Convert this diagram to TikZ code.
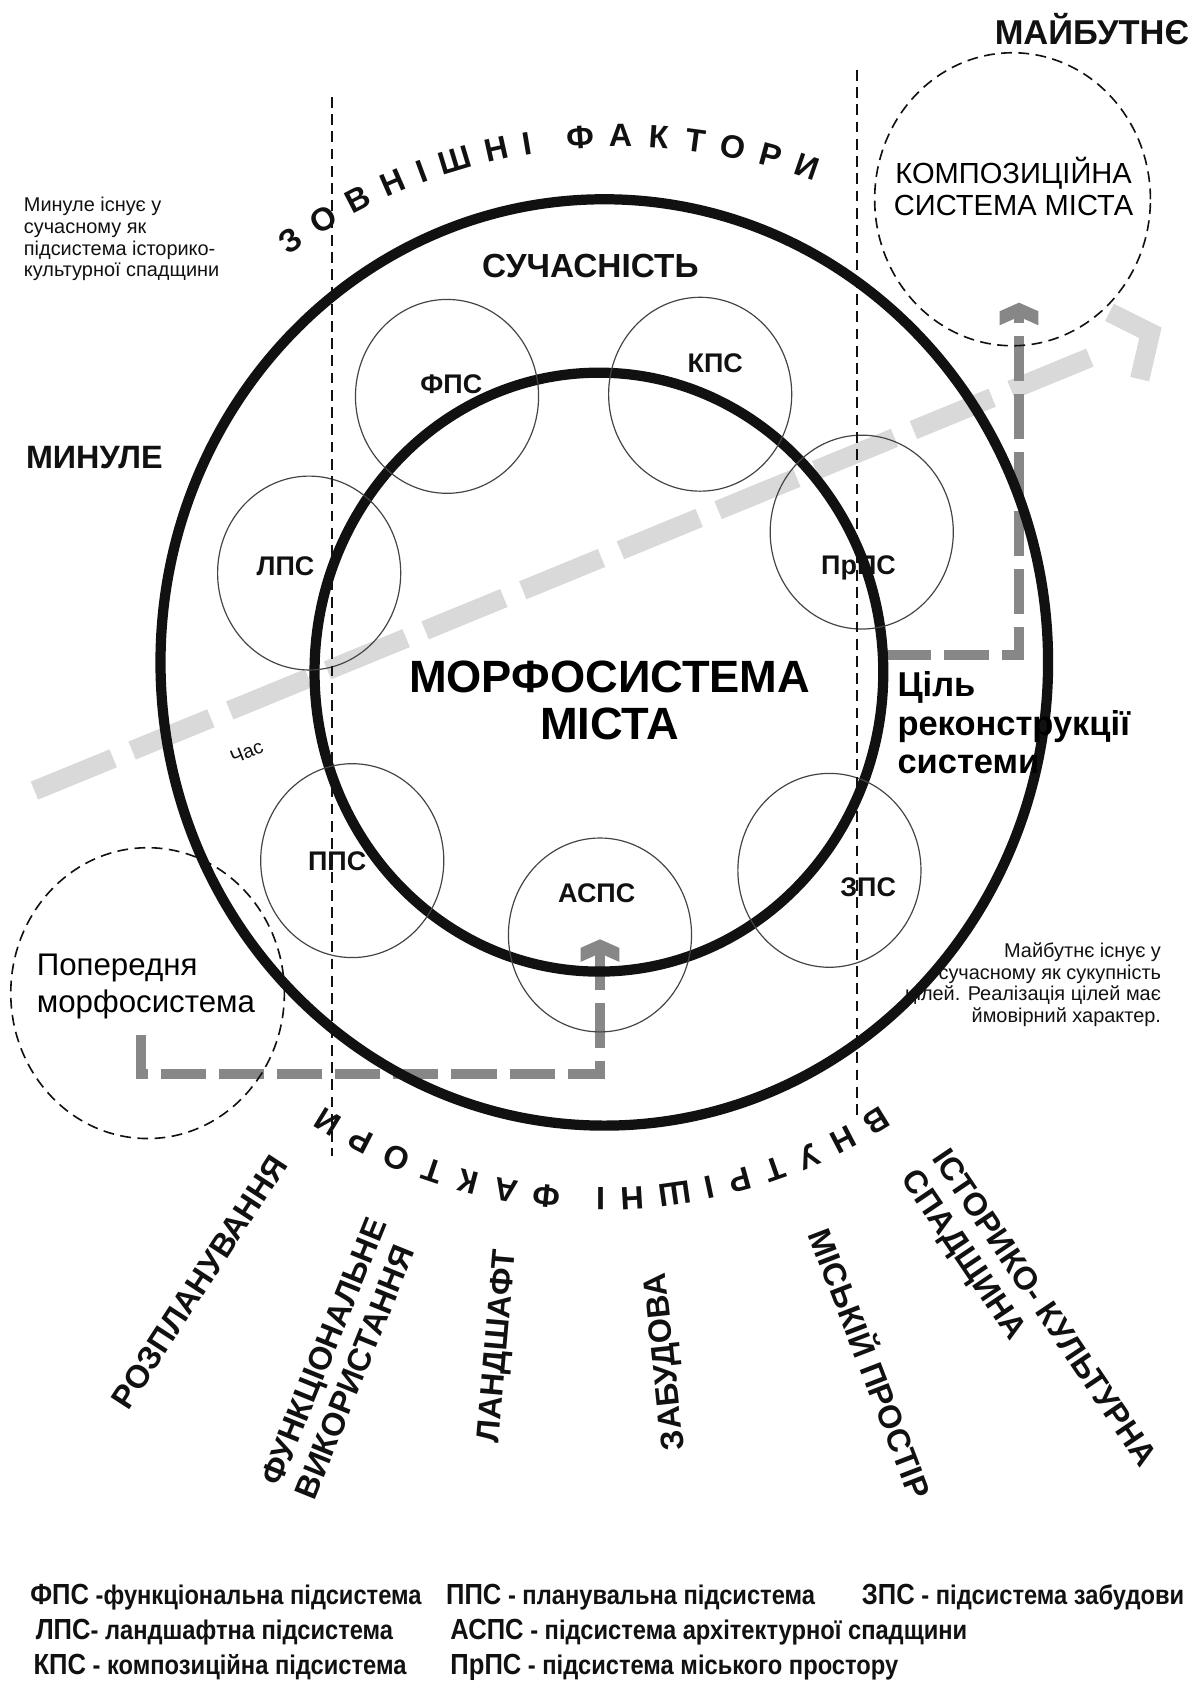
\documentclass[tikz,border=0pt]{standalone}
\usepackage{fontspec}
\setmainfont{Liberation Sans}
\newfontfamily\narrowsans{Liberation Sans}[FakeStretch=0.88]
\usepackage{xcolor}
\definecolor{timegray}{HTML}{D9D9D9}
\definecolor{flowgray}{HTML}{878787}
\definecolor{inkblack}{HTML}{111111}
\definecolor{thingray}{HTML}{444444}
\usetikzlibrary{arrows.meta,positioning,shapes.geometric,calc}
\newcommand{\fsz}[2]{\fontsize{#1}{#2}\selectfont}
\newcommand{\legabbr}[1]{{\fsz{27}{28}#1}}
\tikzset{
  ring/.style={ellipse, draw=inkblack, line width=9.5pt, inner sep=0pt},
  subnode/.style={
    ellipse, draw=thingray, line width=1.1pt, inner sep=0pt,
    minimum width=170pt, minimum height=180pt
  },
  sublabel/.style={font=\bfseries\fsz{25}{28}, text=inkblack, inner sep=0pt},
  ghostnode/.style={ellipse, draw=inkblack, line width=1.5pt, dash pattern=on 10pt off 6pt, inner sep=0pt},
  splitline/.style={draw=inkblack, line width=1.8pt, dash pattern=on 10pt off 6pt},
  arcletter/.style={font=\bfseries\fsz{30}{30}, text=inkblack, inner sep=0pt},
  headlabel/.style={font=\bfseries\fsz{31}{34}, text=inkblack, inner sep=0pt},
  factorlabel/.style={font=\bfseries\fsz{30}{34}, text=inkblack, align=left, inner sep=0pt},
  notetext/.style={font=\fsz{18.5}{20}, text=inkblack, inner sep=0pt},
  timearrow/.style={draw=timegray, line width=18pt, dash pattern=on 79pt off 19pt},
  timehead/.style={draw=timegray, line width=18pt, miter limit=10},
  flowarrow/.style={draw=flowgray, line width=9pt, dash pattern=on 42pt off 12pt},
  legendnode/.style={font=\narrowsans\bfseries\fsz{25}{26}, text=inkblack, inner sep=0pt, anchor=west},
  chevron/.pic={\fill[flowgray] (0,0) -- (18,-8) -- (18,-21) -- (0,-13) -- (-18,-21) -- (-18,-8) -- cycle;}
}

\begin{document}
\begin{tikzpicture}[x=1pt,y=1pt]
  \useasboundingbox (0,0) rectangle (1112,1568);
  \fill[white] (0,0) rectangle (1112,1568);

  % Time axis
  \coordinate (tstart) at (32,834);
  \coordinate (tend) at (1068,1259);
  \draw[timearrow] (tstart) -- ($(tstart)!0.946!(tend)$);
  \draw[timehead] ($(tend)+(-38,19)$) -- (tend) -- ($(tend)+(-10,-43)$);
  \node[notetext, font=\fsz{18}{20}, rotate=22] (timelbl) at (229,870) {Час};

  % Flow arrows
  \coordinate (prevout) at (131,607);
  \coordinate (aspsin) at (557,696);
  \draw[flowarrow] (prevout) -- ++(0,-36) -| ($(aspsin)+(0,-12)$);
  \pic at (aspsin) {chevron};
  \coordinate (goalout) at (822,960);
  \coordinate (compin) at (946,1287);
  \draw[flowarrow] (goalout) -| ($(compin)+(0,-12)$);
  \pic at (compin) {chevron};

  % Rings
  \node[ring, minimum width=824pt, minimum height=860pt] (outer) at (561,953) {};
  \node[ring, minimum width=528pt, minimum height=556pt] (inner) at (556,944) {};

  % Subsystems
  \node[subnode] (fps) at (415,1200) {};
  \node[subnode] (kps) at (650,1202) {};
  \node[subnode] (prps) at (800,1074) {};
  \node[subnode] (zps) at (770,760) {};
  \node[subnode] (asps) at (557,700) {};
  \node[subnode] (pps) at (327,769) {};
  \node[subnode] (lps) at (287,1036) {};

  \node[sublabel] (fpslbl) at (419,1211) {ФПС};
  \node[sublabel] (kpslbl) at (664,1231) {КПС};
  \node[sublabel] (prpslbl) at (797,1041) {ПрПС};
  \node[sublabel] (zpslbl) at (806,744) {ЗПС};
  \node[sublabel] (aspslbl) at (554,739) {АСПС};
  \node[sublabel] (ppslbl) at (313,768) {ППС};
  \node[sublabel] (lpslbl) at (265,1042) {ЛПС};

  % Dashed circles
  \node[ghostnode, minimum width=256pt, minimum height=272pt] (compsys) at (940,1383) {};
  \node[font=\fsz{27}{30}, align=center, inner sep=0pt] (compsyslbl) at (941,1395)
  {КОМПОЗИЦІЙНА\\СИСТЕМА МІСТА};
  \node[ghostnode, minimum width=254pt, minimum height=270pt] (prevsys) at (137,646) {};
  \node[font=\fsz{29}{34}, align=left, anchor=west, inner sep=0pt] (prevsyslbl) at (34,652)
  {Попередня\\морфосистема};

  % Split lines
  \coordinate (pasttop) at (308,1478);
  \coordinate (pastbot) at (308,495);
  \coordinate (futtop) at (796,1503);
  \coordinate (futbot) at (796,533);
  \draw[splitline] (pasttop) -- (pastbot);
  \draw[splitline] (futtop) -- (futbot);

  % Headings
  \node[headlabel, anchor=east, font=\bfseries\fsz{32}{34}] (future) at (1104,1541) {МАЙБУТНЄ};
  \node[headlabel, anchor=west, font=\bfseries\fsz{30}{34}] (past) at (24,1143) {МИНУЛЕ};
  \node[headlabel] (present) at (548,1321) {СУЧАСНІСТЬ};
  \node[font=\bfseries\fsz{42}{44}, align=center, inner sep=0pt] (morph) at (566,918)
  {МОРФОСИСТЕМА\\МІСТА};
  \node[font=\bfseries\fsz{32}{36}, align=left, anchor=west, inner sep=0pt] (goal) at (833,897)
  {Ціль\\реконструкції\\системи};

  % Notes
  \node[notetext, align=left, anchor=west] (pastnote) at (22,1346)
  {Минуле існує у\\сучасному як\\підсистема історико-\\культурної спадщини};
  \node[notetext, align=right, anchor=east] (futnote) at (1078,654)
  {Майбутнє існує у\\сучасному як сукупність\\цілей. Реалізація цілей має\\ймовірний характер.};

  % External factors
  \coordinate (extc) at (576,911);
  \foreach \ch/\ang [count=\k] in {З/125.2,О/121.32,В/117.35,Н/113.47,І/110.31,Ш/106.79,Н/102.55,І/99.39,
                                  Ф/94.05,А/89.99,К/86.11,Т/82.41,О/78.62,Р/74.74,И/70.95}
    \node[arcletter, rotate=\ang-90] (ext\k) at ($(extc)+(\ang:531)$) {\ch};

  % Internal factors
  \coordinate (intc) at (558,942);
  \foreach \ch/\ang [count=\k] in {В/-58.3,Н/-62.56,У/-66.72,Т/-70.69,Р/-74.66,І/-78.04,Ш/-81.91,Н/-86.56,І/-90.04,
                                  Ф/-96.01,А/-100.46,К/-104.72,Т/-108.78,О/-112.94,Р/-117.2,И/-121.36}
    \node[arcletter, rotate=\ang-90] (int\k) at ($(intc)+(\ang:487)$) {\ch};

  % Factor labels
  \node[factorlabel, rotate=57] (plan) at (185,378) {РОЗПЛАНУВАННЯ};
  \node[factorlabel, rotate=68] (func) at (316,307) {ФУНКЦІОНАЛЬНЕ\\ВИКОРИСТАННЯ};
  \node[factorlabel, rotate=85] (land) at (463,318) {ЛАНДШАФТ};
  \node[factorlabel, rotate=96] (build) at (619,304) {ЗАБУДОВА};
  \node[factorlabel, rotate=-69] (urban) at (810,303) {МІСЬКІЙ ПРОСТІР};
  \node[factorlabel, rotate=-56] (herit) at (954,343) {ІСТОРИКО- КУЛЬТУРНА\\СПАДЩИНА};

  % Legend
  \node[legendnode] (lgfps) at (28,85) {\legabbr{ФПС} -функціональна підсистема};
  \node[legendnode] (lgpps) at (414,85) {\legabbr{ППС} - планувальна підсистема};
  \node[legendnode] (lgzps) at (800,85) {\legabbr{ЗПС} - підсистема забудови};
  \node[legendnode] (lglps) at (33,53) {\legabbr{ЛПС}- ландшафтна підсистема};
  \node[legendnode] (lgasps) at (418,53) {\legabbr{АСПС} - підсистема архітектурної спадщини};
  \node[legendnode] (lgkps) at (31,20) {\legabbr{КПС} - композиційна підсистема};
  \node[legendnode] (lgprps) at (418,20) {\legabbr{ПрПС} - підсистема міського простору};
\end{tikzpicture}
\end{document}
